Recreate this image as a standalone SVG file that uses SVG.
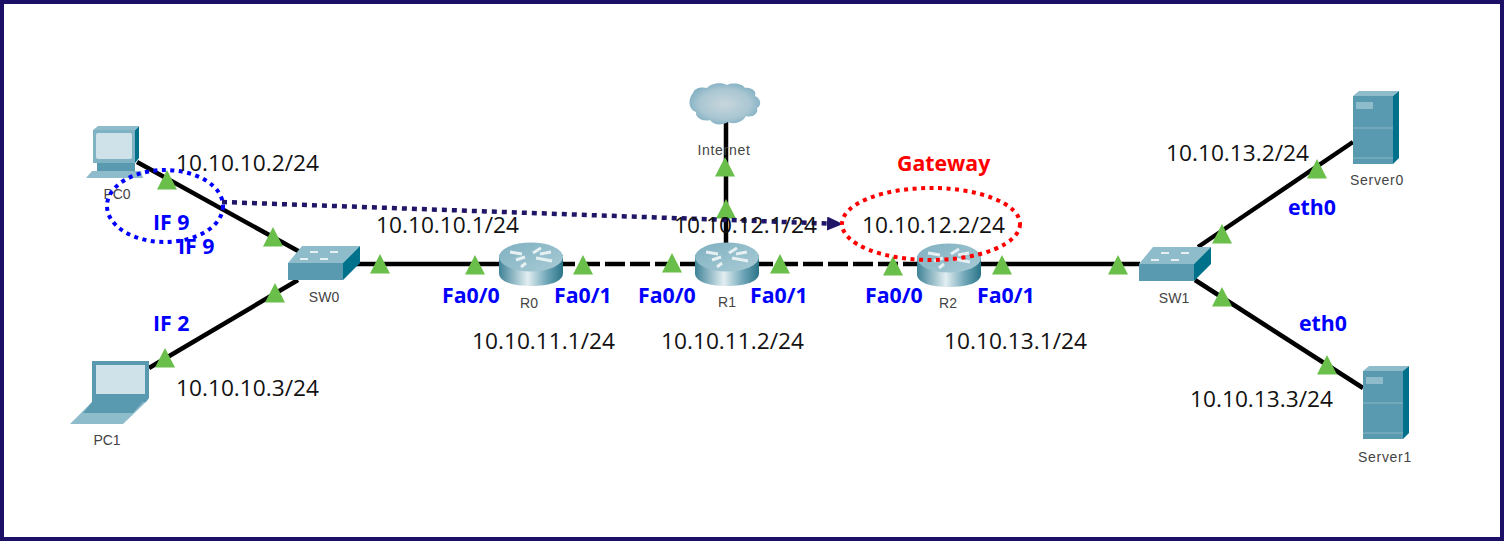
<svg xmlns="http://www.w3.org/2000/svg" width="1504" height="541" viewBox="0 0 1504 541">
<style>
.ln{fill:none;stroke:#000;stroke-width:4.5}
.d{stroke-dasharray:20 5}
.t{fill:#6abf4b}
.ip{font:22.7px "Open Sans",sans-serif;fill:#111}
.b{font:bold 21.3px "Open Sans",sans-serif;fill:#0000ff}
.n{font:14px "Liberation Sans",Arial,sans-serif;fill:#444;text-anchor:middle}
.w{letter-spacing:.7px}
.f{fill:#5a9ab0}.s{fill:#00718a}.u{fill:#8fbccb}
</style>
<defs>
<linearGradient id="rg" x1="0" x2="1" y1="0" y2="0"><stop offset="0" stop-color="#3f8297"/><stop offset=".45" stop-color="#e2eef1"/><stop offset=".75" stop-color="#6fa6b8"/><stop offset="1" stop-color="#2a7488"/></linearGradient>
<linearGradient id="rt" x1="0" x2="1" y1="0" y2="1"><stop offset="0" stop-color="#7fb0c0"/><stop offset="1" stop-color="#a9cbd6"/></linearGradient>
<radialGradient id="cl" cx=".5" cy=".5" r=".6"><stop offset="0" stop-color="#c8d6dc"/><stop offset=".6" stop-color="#a9c6d2"/><stop offset="1" stop-color="#74a8bd"/></radialGradient>
<marker id="ah" markerUnits="userSpaceOnUse" markerWidth="18" markerHeight="14" refX="0" refY="7" orient="auto"><path d="M0 0L16 7L0 14z" fill="#1f1668"/></marker>
<g id="tri"><path class="t" d="M-10 19.500L0 0L10 19.500z"/></g>
<g id="router">
<path d="M-32 -9V9C-32 18 -18 22 0 22S32 18 32 9V-9z" fill="url(#rg)"/>
<ellipse cx="0" cy="-7" rx="32" ry="14.500" fill="url(#rt)"/>
<path d="M-21 -12L-9 -10M-6 -7L-15 -4M10 -16L2 -11M5 -6L21 -3M-5 -1L-10 3M20 -12L9 -10" stroke="#e6f0f3" stroke-width="3" fill="none"/>
</g>
<g id="switch">
<path class="u" d="M0 17L14 0H72L55 17z"/>
<rect class="f" y="17" width="55" height="17"/>
<path class="s" d="M55 17L72 0V17L55 34z"/>
<path d="M22 6h8M42 6h8M12 13h8M32 13h8" stroke="#e6f0f3" stroke-width="2"/>
</g>
<g id="server">
<path class="u" d="M0 5L6 0H46L40 5z"/>
<rect class="f" y="5" width="40" height="68"/>
<path class="s" d="M40 5L46 0V67L40 73z"/>
<rect x="3" y="11" width="17" height="7" fill="#8fbccb"/>
<path d="M0 37H40M0 67H40" stroke="#79aebf" stroke-width="1.500"/>
</g>
</defs>
<rect width="1504" height="541" fill="#fff"/>
<rect x="2" y="2" width="1500" height="537" fill="none" stroke="#1b0f66" stroke-width="4"/>
<g id="connectors">
<path class="ln" d="M137 162L300 252"/>
<path class="ln" d="M149 368L298 280"/>
<path class="ln" d="M350 264H500"/>
<path class="ln d" d="M555 264H700"/>
<path class="ln d" d="M753 264H922"/>
<path class="ln" d="M980 264H1140"/>
<path class="ln" d="M726 122V245"/>
<path class="ln" d="M1198 247L1353 142"/>
<path class="ln" d="M1195 280L1363 388"/>
</g>
<g id="PC0">
<path class="s" d="M135 130L139 126V158L135 163z"/>
<path class="u" d="M93 130L98 126H139L135 130z"/>
<rect x="93" y="130" width="42" height="33" fill="#7fb3c4"/>
<rect x="96" y="133" width="36" height="26" rx="2" fill="#cfe2ea"/>
<rect x="97" y="163" width="38" height="8" class="f"/>
<path class="u" d="M92 171H141L143 178H86z"/>
<text class="n" x="117" y="199">PC0</text>
</g>
<g id="PC1">
<path class="f" d="M92 361H149V398L146 402H92z"/>
<rect x="96" y="365" width="49" height="29" fill="#cfe2ea"/>
<path class="u" d="M92 402H146L123 424H70z"/>
<path class="f" d="M92 402H143L133 413H83z"/>
<text class="n" x="107" y="445">PC1</text>
</g>
<g id="SW0"><use href="#switch" x="288" y="246"/><text class="n" x="324" y="302">SW0</text></g>
<g id="R0"><use href="#router" x="531" y="264"/><text class="n" x="529" y="308">R0</text></g>
<g id="R1"><use href="#router" x="727" y="264"/><text class="n" x="727" y="307">R1</text></g>
<g id="R2"><use href="#router" x="949" y="265"/><text class="n" x="948" y="308">R2</text></g>
<g id="SW1"><use href="#switch" x="1139" y="247"/><text class="n" x="1174" y="303">SW1</text></g>
<g id="Internet">
<path d="M693 93C695 87 703 87 707 88C711 83 722 82 727 85C733 82 743 84 745 88C751 87 757 91 755 96C761 98 762 106 757 108C759 114 752 118 746 116C743 122 734 125 728 122C722 126 713 125 710 120C703 122 695 118 696 112C689 110 687 100 693 93z" fill="url(#cl)"/>
<text class="n w" x="724" y="155">Internet</text>
</g>
<g id="Server0"><use href="#server" x="1353" y="91"/><text class="n w" x="1377" y="185">Server0</text></g>
<g id="Server1"><use href="#server" x="1363" y="366"/><text class="n w" x="1385" y="462">Server1</text></g>
<g id="markers">
<use href="#tri" x="167" y="170"/><use href="#tri" x="273" y="227"/><use href="#tri" x="275" y="283"/><use href="#tri" x="165" y="348"/>
<use href="#tri" x="380" y="254"/><use href="#tri" x="475" y="255"/><use href="#tri" x="583" y="255"/><use href="#tri" x="672" y="253"/><use href="#tri" x="780" y="254"/>
<use href="#tri" x="893" y="256"/><use href="#tri" x="1002" y="255"/><use href="#tri" x="1118" y="255"/>
<use href="#tri" x="725" y="157"/><use href="#tri" x="726" y="199"/>
<use href="#tri" x="1222" y="224"/><use href="#tri" x="1317" y="159"/><use href="#tri" x="1222" y="287"/><use href="#tri" x="1327" y="355"/>
</g>
<g id="overlays" fill="none">
<path d="M222 202L827 223.500" stroke="#1f1668" stroke-width="4.500" stroke-dasharray="5 5" marker-end="url(#ah)"/>
<ellipse cx="165" cy="206" rx="58" ry="36" stroke="#0000ff" stroke-width="4" stroke-dasharray="4 4.500"/>
<ellipse cx="931" cy="224" rx="89" ry="36" stroke="#ff0000" stroke-width="4" stroke-dasharray="4 4.500"/>
</g>
<g id="addresses">
<text class="ip" x="176" y="171">10.10.10.2/24</text>
<text class="ip" x="176" y="396">10.10.10.3/24</text>
<text class="ip" x="376" y="233">10.10.10.1/24</text>
<text class="ip" x="674" y="233">10.10.12.1/24</text>
<text class="ip" x="862" y="233">10.10.12.2/24</text>
<text class="ip" x="472" y="349">10.10.11.1/24</text>
<text class="ip" x="661" y="349">10.10.11.2/24</text>
<text class="ip" x="944" y="349">10.10.13.1/24</text>
<text class="ip" x="1166" y="161">10.10.13.2/24</text>
<text class="ip" x="1190" y="407">10.10.13.3/24</text>
</g>
<g id="interfaces">
<text class="b" x="153" y="230">IF 9</text>
<text class="b" x="178" y="254">IF 9</text>
<text class="b" x="153" y="331">IF 2</text>
<text class="b" x="442" y="303">Fa0/0</text>
<text class="b" x="554" y="303">Fa0/1</text>
<text class="b" x="638" y="303">Fa0/0</text>
<text class="b" x="750" y="303">Fa0/1</text>
<text class="b" x="865" y="303">Fa0/0</text>
<text class="b" x="977" y="303">Fa0/1</text>
<text class="b" x="1288" y="215">eth0</text>
<text class="b" x="1299" y="331">eth0</text>
<text class="b" x="897" y="171" style="fill:#ff0000">Gateway</text>
</g>
</svg>
